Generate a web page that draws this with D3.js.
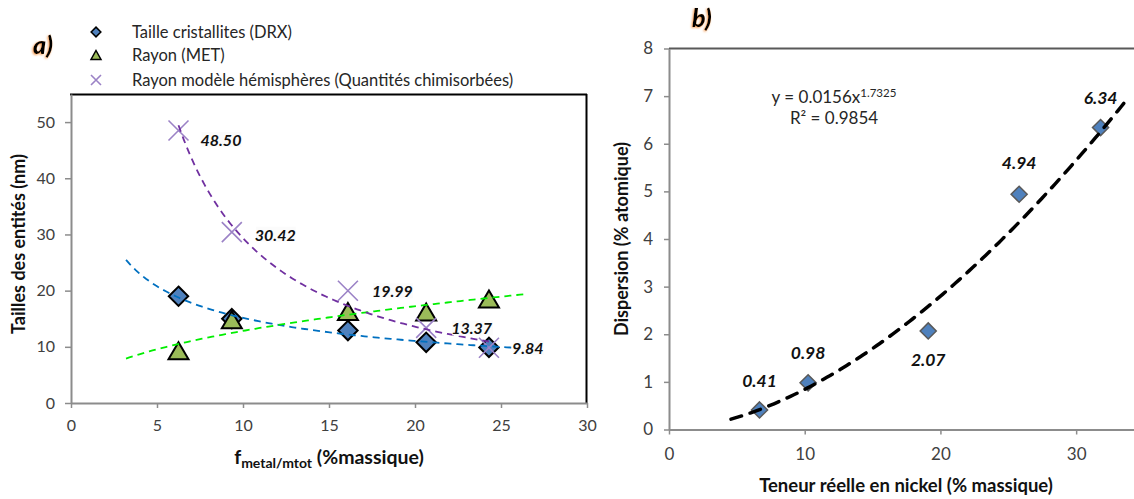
<!DOCTYPE html>
<html><head><meta charset="utf-8">
<script src="https://cdn.jsdelivr.net/npm/d3@7"></script>
<style>
body{margin:0;background:#fff}
svg{display:block}
text{font-family:Lato,'Open Sans',sans-serif}
</style>
</head><body>
<svg id="c" width="1134" height="499"></svg>
<script>
// ---------- data ----------
const sampleLoad = [6.25, 9.35, 16.1, 20.65, 24.3];          // f metal/mtot (% massique)
const crystalliteSize = [19.0, 15.0, 12.9, 10.8, 9.9];        // DRX
const temRadius = [9.3, 14.8, 16.3, 16.2, 18.5];              // MET
const hemisphereRadius = [48.50, 30.42, 19.99, 13.37, 9.84];  // modèle hémisphères
const hemisphereLabels = ["48.50", "30.42", "19.99", "13.37", "9.84"];
const nickelContent = [6.67, 10.25, 19.1, 25.8, 31.8];        // teneur réelle (% massique)
const dispersion = [0.41, 0.98, 2.07, 4.94, 6.34];
const dispersionLabels = ["0.41", "0.98", "2.07", "4.94", "6.34"];
const leftXTicks = [0, 5, 10, 15, 20, 25, 30];
const leftYTicks = [0, 10, 20, 30, 40, 50];
const rightXTicks = [0, 10, 20, 30];
const rightYTicks = [0, 1, 2, 3, 4, 5, 6, 7, 8];
const legendLabels = ["Taille cristallites (DRX)", "Rayon (MET)", "Rayon modèle hémisphères (Quantités chimisorbées)"];
const fitCoefA = 0.0156, fitExpB = 1.7325, fitR2 = "0.9854";
const leftTrendRange = [3.2, 26.3];
const hemiTrendRange = [6.25, 24.3];
const rightTrendRange = [4.57, 33.8];

// ---------- helpers ----------
const svg = d3.select("#c");
const defs = svg.append("defs");
const glow = defs.append("filter").attr("id","glow").attr("x","-30%").attr("y","-30%").attr("width","160%").attr("height","160%");
glow.append("feDropShadow").attr("dx",-1).attr("dy",1).attr("stdDeviation",1.2).attr("flood-color","#F79646").attr("flood-opacity",0.9);

function powerFit(xs, ys){
  const lx = xs.map(Math.log), ly = ys.map(Math.log);
  const mx = d3.mean(lx), my = d3.mean(ly);
  let sxy = 0, sxx = 0;
  lx.forEach((v,i)=>{ sxy += (v-mx)*(ly[i]-my); sxx += (v-mx)*(v-mx); });
  const b = sxy/sxx, a = Math.exp(my - b*mx);
  return x => a*Math.pow(x,b);
}
function curvePts(f, range){
  const n = 120, pts = [];
  for(let i=0;i<=n;i++){ const x = range[0] + (range[1]-range[0])*i/n; pts.push([x, f(x)]); }
  return pts;
}
const diamond = d3.symbol().type(d3.symbolDiamond2);
const tickColor = "#404040";
const axisColor = "#8C8C8C";

function styleAxis(g, fs){
  g.select(".domain").attr("stroke", axisColor).attr("stroke-width", 2);
  g.selectAll(".tick line").attr("stroke", axisColor).attr("stroke-width", 1.5);
  g.selectAll(".tick text").attr("fill", tickColor).style("font-size", fs+"px").style("font-family","Lato,'Open Sans',sans-serif");
}

// ================= LEFT CHART =================
const xL = d3.scaleLinear().domain([0,30]).range([71,587]);
const yL = d3.scaleLinear().domain([0,55]).range([403,94]);

svg.append("line").attr("x1",70).attr("x2",587).attr("y1",94.5).attr("y2",94.5).attr("stroke","#000").attr("stroke-width",2);
svg.append("line").attr("x1",586.5).attr("x2",586.5).attr("y1",94).attr("y2",403).attr("stroke","#000").attr("stroke-width",2);

const gxL = svg.append("g").attr("transform","translate(0,403)")
  .call(d3.axisBottom(xL).tickValues(leftXTicks).tickSize(5).tickSizeOuter(0).tickPadding(12).tickFormat(d3.format("d")));
styleAxis(gxL, 16);
const gyL = svg.append("g").attr("transform","translate(71,0)")
  .call(d3.axisLeft(yL).tickValues(leftYTicks).tickSize(6).tickSizeOuter(0).tickPadding(10).tickFormat(d3.format("d")));
styleAxis(gyL, 16);

const gL = svg.append("g");
sampleLoad.forEach((x,i)=>{
  gL.append("path").attr("d", diamond.size(240)()).attr("transform",`translate(${xL(x)},${yL(crystalliteSize[i])})`)
    .attr("fill","#4F81BD").attr("stroke","#000").attr("stroke-width",2);
});
const tri = (cx,cy,w,h)=>`M${cx},${cy-h/2}L${cx+w/2},${cy+h/2}L${cx-w/2},${cy+h/2}Z`;
sampleLoad.forEach((x,i)=>{
  gL.append("path").attr("d", tri(xL(x), yL(temRadius[i]), 20, 17))
    .attr("fill","#9BBB59").attr("stroke","#000").attr("stroke-width",2).attr("stroke-linejoin","miter");
});
const cross = (cx,cy,r)=>`M${cx-r},${cy-r}L${cx+r},${cy+r}M${cx+r},${cy-r}L${cx-r},${cy+r}`;
sampleLoad.forEach((x,i)=>{
  gL.append("path").attr("d", cross(xL(x), yL(hemisphereRadius[i]), 10))
    .attr("fill","none").attr("stroke","#9B82C6").attr("stroke-width",1.6);
});

const lineL = d3.line().x(d=>xL(d[0])).y(d=>yL(d[1]));
const fitDrx = powerFit(sampleLoad, crystalliteSize);
const fitMet = powerFit(sampleLoad, temRadius);
const fitHemi = powerFit(sampleLoad, hemisphereRadius);
[[fitDrx,leftTrendRange,"#0070C0"],[fitMet,leftTrendRange,"#00EE00"],[fitHemi,hemiTrendRange,"#7030A0"]].forEach(([f,r,c])=>{
  gL.append("path").attr("d", lineL(curvePts(f,r))).attr("fill","none").attr("stroke",c)
    .attr("stroke-width",1.8).attr("stroke-dasharray","7,5");
});

const labOff = [[22,10],[23,3],[24,1],[25,1],[23,1]];
sampleLoad.forEach((x,i)=>{
  const t = gL.append("text").attr("x", xL(x)+labOff[i][0]).attr("y", yL(hemisphereRadius[i])+labOff[i][1])
    .attr("dy","0.35em").attr("font-size",16).attr("font-weight","bold").attr("font-style","italic").attr("fill","#111")
    .text(hemisphereLabels[i]);
  const bb = t.node().getBBox();
  gL.insert("rect", () => t.node()).attr("x",bb.x+1).attr("y",bb.y+2).attr("width",bb.width-1).attr("height",bb.height-4).attr("fill","#fbfbfb");
});

// legend
const legY = [32, 55, 80];
const lg = svg.append("g");
lg.append("path").attr("d", diamond.size(60)()).attr("transform",`translate(96,${legY[0]})`).attr("fill","#4F81BD").attr("stroke","#000").attr("stroke-width",1.5);
lg.append("path").attr("d", tri(96, legY[1], 10, 9)).attr("fill","#9BBB59").attr("stroke","#000").attr("stroke-width",1.5);
lg.append("path").attr("d", cross(96, legY[2], 5)).attr("stroke","#9B82C6").attr("stroke-width",1.6).attr("fill","none");
legendLabels.forEach((s,i)=>{
  lg.append("text").attr("x",132).attr("y",legY[i]).attr("dy","0.35em").attr("font-size",16.5).attr("fill","#262626").text(s);
});

svg.append("text").attr("x",33).attr("y",54).attr("font-size",25).attr("font-weight","900").attr("font-style","italic")
  .attr("fill","#000").attr("filter","url(#glow)").text("a)");

svg.append("text").attr("transform","translate(25,244) rotate(-90)").attr("text-anchor","middle")
  .attr("font-size",18).attr("font-weight","bold").attr("fill","#111").text("Tailles des entités (nm)");
const xt = svg.append("text").attr("x",329).attr("y",464).attr("text-anchor","middle").attr("font-weight","bold").attr("fill","#111").attr("font-size",19.5);
xt.append("tspan").text("f");
xt.append("tspan").attr("font-size",14).attr("dy",4).text("metal/mtot");
xt.append("tspan").attr("dy",-4).text(" (%massique)");

// ================= RIGHT CHART =================
const xR = d3.scaleLinear().domain([0,35]).range([669,1144]);
const yR = d3.scaleLinear().domain([0,8]).range([429.5,48.5]);

svg.append("line").attr("x1",669).attr("x2",1134).attr("y1",48.5).attr("y2",48.5).attr("stroke","#595959").attr("stroke-width",2);
const gxR = svg.append("g").attr("transform","translate(0,429.5)")
  .call(d3.axisBottom(xR).tickValues(rightXTicks).tickSize(5).tickSizeOuter(0).tickPadding(13).tickFormat(d3.format("d")));
styleAxis(gxR, 17);
const gyR = svg.append("g").attr("transform","translate(669,0)")
  .call(d3.axisLeft(yR).tickValues(rightYTicks).tickSize(5).tickSizeOuter(0).tickPadding(11).tickFormat(d3.format("d")));
styleAxis(gyR, 17);

const gR = svg.append("g");
nickelContent.forEach((x,i)=>{
  gR.append("path").attr("d", diamond.size(165)()).attr("transform",`translate(${xR(x)},${yR(dispersion[i])})`)
    .attr("fill","#4F81BD").attr("stroke","#595959").attr("stroke-width",1.5);
});
const fitR = x => fitCoefA*Math.pow(x, fitExpB);
const lineR = d3.line().x(d=>xR(d[0])).y(d=>yR(d[1]));
gR.append("path").attr("d", lineR(curvePts(fitR, rightTrendRange))).attr("fill","none").attr("stroke","#000")
  .attr("stroke-width",3.5).attr("stroke-dasharray","11,9").attr("stroke-linecap","round");

const labOffR = [-29,-30,29,-31,-30];
nickelContent.forEach((x,i)=>{
  gR.append("text").attr("x",xR(x)).attr("y",yR(dispersion[i])+labOffR[i]).attr("dy","0.35em").attr("text-anchor","middle")
    .attr("font-size",17.5).attr("font-weight","bold").attr("font-style","italic").attr("fill","#111").text(dispersionLabels[i]);
});

const eq = svg.append("text").attr("x",834).attr("y",97).attr("dy","0.35em").attr("text-anchor","middle").attr("font-size",17).attr("fill","#262626");
eq.append("tspan").text("y = " + fitCoefA + "x");
eq.append("tspan").attr("font-size",11.5).attr("dy",-6).text(fitExpB);
svg.append("text").attr("x",834).attr("y",118).attr("dy","0.35em").attr("text-anchor","middle").attr("font-size",17).attr("fill","#262626")
  .text("R² = " + fitR2);

svg.append("text").attr("x",692).attr("y",27).attr("font-size",25).attr("font-weight","900").attr("font-style","italic")
  .attr("fill","#000").attr("filter","url(#glow)").text("b)");

svg.append("text").attr("transform","translate(628,239) rotate(-90)").attr("text-anchor","middle")
  .attr("font-size",18).attr("font-weight","bold").attr("fill","#111").text("Dispersion (% atomique)");
svg.append("text").attr("x",906).attr("y",492).attr("text-anchor","middle")
  .attr("font-size",18.5).attr("font-weight","bold").attr("fill","#111").text("Teneur réelle en nickel (% massique)");
</script>
</body></html>
